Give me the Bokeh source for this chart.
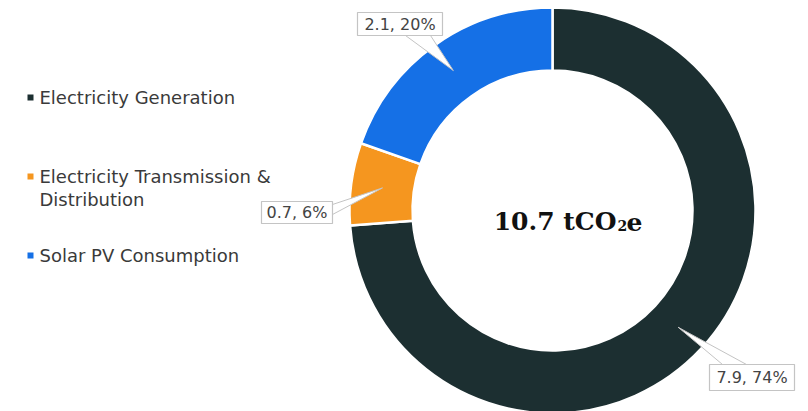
import math
from bokeh.plotting import figure
from bokeh.models import Range1d, ColumnDataSource
from bokeh.embed import file_html
from bokeh.resources import INLINE
from bokeh.core.properties import value

# ---- data ----
categories = ["Electricity Generation", "Electricity Transmission & Distribution", "Solar PV Consumption"]
values = [7.9, 0.7, 2.1]
percents = [74, 6, 20]
colors = ["#1c2f31", "#f5961f", "#1570e6"]
legend_lines = [["Electricity Generation"], ["Electricity Transmission &", "Distribution"], ["Solar PV Consumption"]]
total_label = ["10.7 tCO", "2", "e"]

W, H = 808, 411
def Y(py):
    return H - py

p = figure(width=W, height=H, x_range=Range1d(0, W), y_range=Range1d(0, H),
           output_backend="svg", toolbar_location=None,
           x_axis_location=None, y_axis_location=None, min_border=0)
p.grid.visible = False
p.outline_line_color = None
p.background_fill_color = "white"
p.border_fill_color = "white"

# ---- donut ----
cx, cy = 552, Y(210)
r_in, r_out = 140, 203
tot = sum(values)
starts, ends, mids = [], [], []
cum = 0.0
for v in values:
    a0 = math.pi / 2 - 2 * math.pi * (cum + v) / tot
    a1 = math.pi / 2 - 2 * math.pi * cum / tot
    starts.append(a0); ends.append(a1); mids.append((a0 + a1) / 2)
    cum += v
src = ColumnDataSource(dict(start=starts, end=ends, color=colors))
p.annular_wedge(x=cx, y=cy, inner_radius=r_in, outer_radius=r_out,
                start_angle="start", end_angle="end", fill_color="color",
                line_color="white", line_width=2.5, source=src)

# ---- callouts ----
# (box center px x, px y, width, height, side, base a, base b)
boxes = [
    (751.5, 377, 85, 26, "top", 722, 746),
    (296.5, 212, 71, 22, "right", 204, 214),
    (399.5, 23.5, 85, 23, "bottom", 405, 430),
]
rm = (r_in + r_out) / 2
for i, (bx, by, bw, bh, side, a, b) in enumerate(boxes):
    ax = cx + rm * math.cos(mids[i])
    ay = cy + rm * math.sin(mids[i])
    if side == "top":
        xs = [a, b, ax]; ys = [Y(by - bh / 2), Y(by - bh / 2), ay]
    elif side == "bottom":
        xs = [a, b, ax]; ys = [Y(by + bh / 2), Y(by + bh / 2), ay]
    else:
        xs = [bx + bw / 2, bx + bw / 2, ax]; ys = [Y(a), Y(b), ay]
    p.patch(xs, ys, fill_color="white", line_color="#c4c4c4", line_width=1)
    p.rect(x=bx, y=Y(by), width=bw, height=bh, fill_color="white",
           line_color="#c4c4c4", line_width=1.2)
    p.text(x=[bx], y=[Y(by)], text=[f"{values[i]}, {percents[i]}%"],
           text_align="center", text_baseline="middle",
           text_font=value("DejaVu Sans"), text_font_size="16px", text_color="#444444")

# ---- center label ----
p.text(x=[616], y=[Y(221)], text=[total_label[0]], text_align="right", text_baseline="alphabetic",
       text_font=value("DejaVu Serif"), text_font_style="bold", text_font_size="25px", text_color="#111111")
p.text(x=[617], y=[Y(225)], text=[total_label[1]], text_align="left", text_baseline="alphabetic",
       text_font=value("DejaVu Serif"), text_font_style="bold", text_font_size="14px", text_color="#111111")
p.text(x=[626], y=[Y(221)], text=[total_label[2]], text_align="left", text_baseline="alphabetic",
       text_font=value("DejaVu Serif"), text_font_style="bold", text_font_size="25px", text_color="#111111")

# ---- legend ----
leg_y = [97, 176, 255]
line_gap = 23
for i, lines in enumerate(legend_lines):
    p.rect(x=30, y=Y(leg_y[i]), width=6, height=6, fill_color=colors[i], line_color=None)
    for j, t in enumerate(lines):
        p.text(x=[39], y=[Y(leg_y[i] + j * line_gap)], text=[t], text_align="left",
               text_baseline="middle", text_font=value("DejaVu Sans"),
               text_font_size="18px", text_color="#3a3a3a")

open("out.html", "w").write(file_html(p, INLINE))
